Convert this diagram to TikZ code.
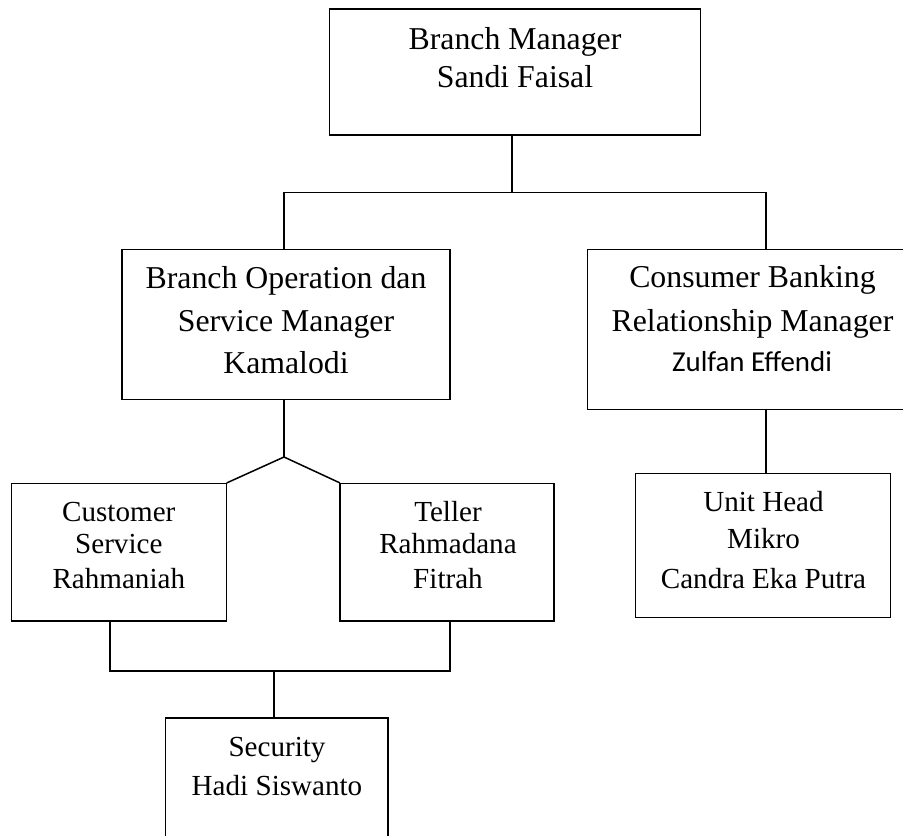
\documentclass[tikz,border=0pt]{standalone}
\usepackage{fontspec}
\setmainfont{Liberation Serif}
\newfontfamily\calib{Carlito}
\begin{document}
\begin{tikzpicture}[x=1pt,y=-1pt,
  box/.style={draw, line width=1.5pt, rectangle, inner sep=0pt},
  big/.style={anchor=base, inner sep=0pt, font=\fontsize{31.8}{38}\selectfont},
  small/.style={anchor=base, inner sep=0pt, font=\fontsize{29.1}{34}\selectfont},
  calibri/.style={anchor=base, inner sep=0pt, font=\calib\fontsize{28.9}{34}\selectfont},
  link/.style={line width=1.5pt, line cap=rect}]
\useasboundingbox (0,0) rectangle (903,836);
\clip (0,0) rectangle (903,836);
\fill[white] (0,0) rectangle (903,836);

% boxes
\node[box, minimum width=371pt, minimum height=126pt] (bm) at (515.2,72) {};
\node[box, minimum width=328pt, minimum height=150pt] (bo) at (286,324.3) {};
\node[box, minimum width=329.3pt, minimum height=160.4pt] (cb) at (752.35,329.5) {};
\node[box, minimum width=215pt, minimum height=137.7pt] (cs) at (119.2,552.2) {};
\node[box, minimum width=214pt, minimum height=137.7pt] (tl) at (447,552.2) {};
\node[box, minimum width=255pt, minimum height=144pt] (uh) at (763.2,545.3) {};
\node[box, minimum width=222.3pt, minimum height=182pt] (sec) at (276.85,809) {};

% texts
\node[big] (bm1) at (515,49.3) {Branch Manager};
\node[big] (bm2) at (515,87.3) {Sandi Faisal};

\node[big] (bo1) at (286,288.3) {Branch Operation dan};
\node[big] (bo2) at (286,331.7) {Service Manager};
\node[big] (bo3) at (286,373.3) {Kamalodi};

\node[big] (cb1) at (752.5,287.7) {Consumer Banking};
\node[big] (cb2) at (752.5,331.7) {Relationship Manager};
\node[calibri] (cb3) at (752,371) {Zulfan Effendi};

\node[small] (cs1) at (118.8,521.7) {Customer};
\node[small] (cs2) at (118.8,553.3) {Service};
\node[small] (cs3) at (118.8,588.3) {Rahmaniah};

\node[small] (tl1) at (448,521.7) {Teller};
\node[small] (tl2) at (448,553.3) {Rahmadana};
\node[small] (tl3) at (448,588.3) {Fitrah};

\node[small] (uh1) at (763.5,511.7) {Unit Head};
\node[small] (uh2) at (763.5,548.3) {Mikro};
\node[small] (uh3) at (763.5,588.3) {Candra Eka Putra};

\node[small] (sc1) at (277,756.7) {Security};
\node[small] (sc2) at (277,795) {Hadi Siswanto};

% junctions
\coordinate (j1) at (512,192.7);
\coordinate (jl) at (284,192.7);
\coordinate (jr) at (766,192.7);
\coordinate (ja) at (284,457);
\coordinate (jbl) at (110,671);
\coordinate (jbr) at (450,671);
\coordinate (jbm) at (274,671);

% connectors
\draw[link] (j1 |- bm.south) -- (j1);
\draw[link] (jl |- bo.north) -- (jl) -- (jr) -- (jr |- cb.north);
\draw[link] (ja |- bo.south) -- (ja);
\draw[link] (cs.north east) -- (ja) -- (tl.north west);
\draw[link] (jbl |- cs.south) -- (jbl) -- (jbr) -- (jbr |- tl.south);
\draw[link] (jbm) -- (jbm |- sec.north);
\draw[link] (jr |- cb.south) -- (jr |- uh.north);
\end{tikzpicture}
\end{document}
